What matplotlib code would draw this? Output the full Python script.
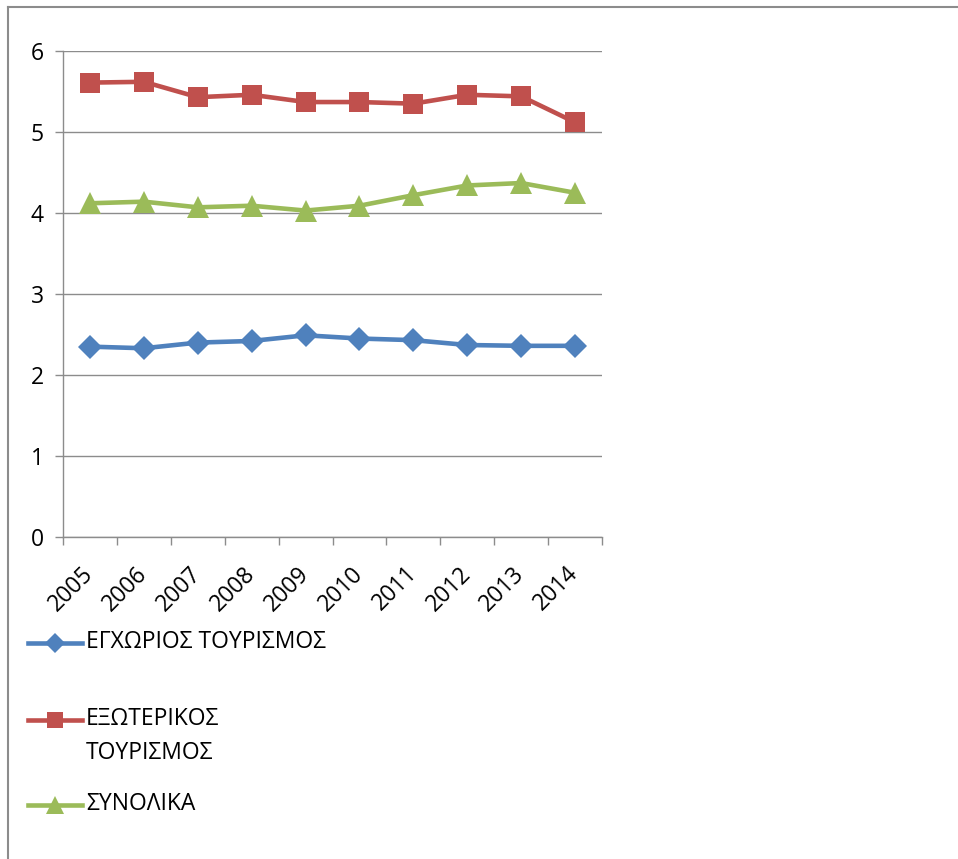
import matplotlib
matplotlib.use('Agg')
import matplotlib.pyplot as plt
from matplotlib.lines import Line2D
from matplotlib.ticker import FixedLocator, MultipleLocator

plt.rcParams['font.family'] = ['Open Sans', 'DejaVu Sans']

# δεδομένα
years = ['2005', '2006', '2007', '2008', '2009', '2010', '2011', '2012', '2013', '2014']
egxorios = [2.35, 2.33, 2.40, 2.42, 2.49, 2.45, 2.43, 2.37, 2.36, 2.36]
exoterikos = [5.61, 5.62, 5.43, 5.46, 5.37, 5.37, 5.35, 5.46, 5.44, 5.12]
synolika = [4.12, 4.14, 4.07, 4.09, 4.03, 4.09, 4.22, 4.34, 4.37, 4.25]
labels = ['ΕΓΧΩΡΙΟΣ ΤΟΥΡΙΣΜΟΣ', 'ΕΞΩΤΕΡΙΚΟΣ\nΤΟΥΡΙΣΜΟΣ', 'ΣΥΝΟΛΙΚΑ']

colors = ['#4F81BD', '#C0504D', '#9BBB59']
markers = ['D', 's', '^']
msizes = [12.5, 15, 16]

fig = plt.figure(figsize=(9.58, 8.59), dpi=100)
ax = fig.add_axes([0.0658, 0.3749, 0.5626, 0.5657])

x = list(range(len(years)))
for vals, c, m, ms in zip([egxorios, exoterikos, synolika], colors, markers, msizes):
    ax.plot(x, vals, color=c, lw=3.3, marker=m, markersize=ms, markeredgewidth=0)

ax.set_xlim(-0.5, len(years) - 0.5)
ax.set_ylim(0, 6)
ax.yaxis.set_major_locator(MultipleLocator(1))
ax.grid(axis='y', color='#8c8c8c', lw=1.0)
ax.set_axisbelow(True)

# κατηγορίες: ετικέτες στο κέντρο, γραμμές υποδιαίρεσης στα όρια
ax.set_xticks(x)
ax.set_xticklabels(years, rotation=45, ha='right', va='center', rotation_mode='anchor')
ax.xaxis.set_minor_locator(FixedLocator([i - 0.5 for i in range(len(years) + 1)]))
ax.tick_params(axis='x', which='major', length=0, pad=24, labelsize=16.5)
ax.tick_params(axis='x', which='minor', length=6, width=1, color='#8c8c8c')
ax.tick_params(axis='y', length=6, width=1, color='#8c8c8c', pad=8, labelsize=16.5)

for s in ['top', 'right']:
    ax.spines[s].set_visible(False)
for s in ['left', 'bottom']:
    ax.spines[s].set_color('#8c8c8c')
    ax.spines[s].set_linewidth(1.0)

# υπόμνημα κάτω από το γράφημα
leg_y = [643, 720, 805]
for lab, c, m, ms, yy in zip(labels, colors, markers, msizes, leg_y):
    yf = 1 - yy / 859
    fig.add_artist(Line2D([28 / 958, 82 / 958], [yf, yf], color=c, lw=3.3,
                          transform=fig.transFigure))
    fig.add_artist(Line2D([55 / 958], [yf], color=c, marker=m, markersize=ms * 0.8,
                          markeredgewidth=0, transform=fig.transFigure))
    fig.text(86 / 958, yf + 13 / 859, lab, fontsize=16.5, va='top', ha='left',
             linespacing=1.55, transform=fig.transFigure)

# πλαίσιο
fig.add_artist(Line2D([8 / 958, 8 / 958], [0, 1 - 7 / 859], color='#8c8c8c', lw=1.5,
                      transform=fig.transFigure))
fig.add_artist(Line2D([8 / 958, 1], [1 - 7 / 859, 1 - 7 / 859], color='#8c8c8c', lw=1.5,
                      transform=fig.transFigure))

fig.savefig('out.png', dpi=100)
